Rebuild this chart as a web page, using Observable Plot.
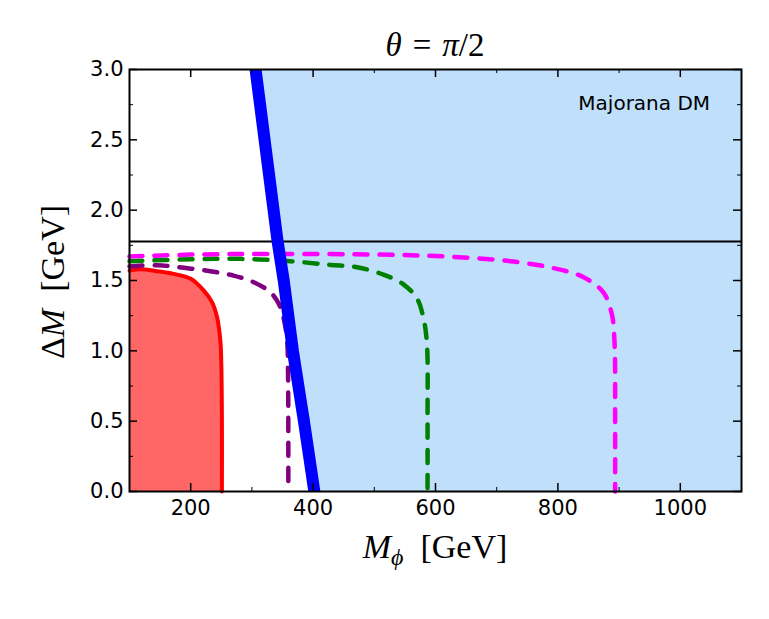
<!DOCTYPE html>
<html>
<head>
<meta charset="utf-8">
<script src="https://cdn.jsdelivr.net/npm/d3@7"></script>
<script src="https://cdn.jsdelivr.net/npm/@observablehq/plot@0.6"></script>
<style>
  html, body { margin: 0; padding: 0; background: #fff; }
</style>
</head>
<body>
<div id="chart"></div>
<script>
// ---- data ----
const xMajor = [200, 400, 600, 800, 1000];
const xMinor = [300, 500, 700, 900];
const yMajor = [0, 0.5, 1.0, 1.5, 2.0, 2.5, 3.0];
const yMinor = [0.25, 0.75, 1.25, 1.75, 2.25, 2.75];
const yTickLabels = ["0.0", "0.5", "1.0", "1.5", "2.0", "2.5", "3.0"];

const tauMass = 1.777;

// excluded region (red)
const redX = [100, 118, 145, 172, 200, 221, 235, 243, 248.5, 250, 251, 251];
const redY = [1.57, 1.58, 1.566, 1.547, 1.512, 1.43, 1.345, 1.24, 1.07, 0.91, 0.5, 0];

// dashed contours
const purpleX = [100, 145, 189, 232, 270, 303, 330, 344, 352, 357.5, 359, 359.5, 359.5];
const purpleY = [1.60, 1.609, 1.59, 1.566, 1.535, 1.488, 1.417, 1.334, 1.228, 1.073, 0.86, 0.4, 0];

const greenX = [100, 200, 281, 363, 428, 472, 515, 548, 570, 580.5, 586, 587, 587];
const greenY = [1.637, 1.651, 1.654, 1.637, 1.611, 1.594, 1.542, 1.471, 1.37, 1.228, 1.05, 0.5, 0];

const magentaX = [100, 200, 336, 510, 619, 727, 798, 842, 874, 888, 892.4, 893.5, 893.5];
const magentaY = [1.67, 1.684, 1.689, 1.684, 1.67, 1.635, 1.583, 1.523, 1.417, 1.263, 1.073, 0.5, 0];

// relic-density boundary (blue) and the allowed region to its right
const blueX = [302, 306, 342, 352, 367, 385, 402];
const blueY = [3.1, 3.0, 1.777, 1.5, 1.0, 0.5, 0];

const zip = (xs, ys) => xs.map((x, i) => ({x, y: ys[i]}));
const red = zip(redX, redY);
const purple = zip(purpleX, purpleY);
const green = zip(greenX, greenY);
const magenta = zip(magentaX, magentaY);
const blue = zip(blueX, blueY);

const W = 769, H = 619;
const mL = 129, mR = 28, mT = 69, mB = 128;
const frameH = H - mT - mB, frameW = W - mL - mR;
const majLen = 8, minLen = 4;

const dash = "13,12";

const chart = Plot.plot({
  width: W, height: H,
  marginLeft: mL, marginRight: mR, marginTop: mT, marginBottom: mB,
  x: {domain: [100, 1100], axis: null},
  y: {domain: [0, 3], axis: null},
  style: {fontFamily: "DejaVu Sans", background: "white"},
  marks: [
    Plot.areaX(blue, {y: "y", x1: "x", x2: 1100, fill: "#bfdffb", clip: true}),
    Plot.areaY(red, {x: "x", y1: 0, y2: "y", fill: "#ff6666", curve: "catmull-rom"}),
    Plot.line(red, {x: "x", y: "y", stroke: "#ff0000", strokeWidth: 4, curve: "catmull-rom"}),
    Plot.ruleY([tauMass], {stroke: "black", strokeWidth: 2}),
    Plot.line(purple, {x: "x", y: "y", stroke: "#800080", strokeWidth: 4.5, strokeDasharray: dash, curve: "catmull-rom"}),
    Plot.line(green, {x: "x", y: "y", stroke: "#008000", strokeWidth: 4.5, strokeDasharray: dash, curve: "catmull-rom"}),
    Plot.line(magenta, {x: "x", y: "y", stroke: "#ff00ff", strokeWidth: 4.5, strokeDasharray: dash, curve: "catmull-rom"}),
    Plot.line(blue, {x: "x", y: "y", stroke: "#0000ff", strokeWidth: 12, clip: true}),
    // inward ticks, all four sides
    Plot.tickX(xMajor, {x: d => d, stroke: "black", strokeWidth: 1.5, insetTop: frameH - majLen}),
    Plot.tickX(xMinor, {x: d => d, stroke: "black", strokeWidth: 1, insetTop: frameH - minLen}),
    Plot.tickX(xMajor, {x: d => d, stroke: "black", strokeWidth: 1.5, insetBottom: frameH - majLen}),
    Plot.tickX(xMinor, {x: d => d, stroke: "black", strokeWidth: 1, insetBottom: frameH - minLen}),
    Plot.tickY(yMajor, {y: d => d, stroke: "black", strokeWidth: 1.5, insetRight: frameW - majLen}),
    Plot.tickY(yMinor, {y: d => d, stroke: "black", strokeWidth: 1, insetRight: frameW - minLen}),
    Plot.tickY(yMajor, {y: d => d, stroke: "black", strokeWidth: 1.5, insetLeft: frameW - majLen}),
    Plot.tickY(yMinor, {y: d => d, stroke: "black", strokeWidth: 1, insetLeft: frameW - minLen}),
    // tick labels
    Plot.text(xMajor, {x: d => d, frameAnchor: "bottom", dy: 23, text: d => String(d), fontSize: 21, fill: "black"}),
    Plot.text(yMajor, {y: d => d, frameAnchor: "left", dx: -6, textAnchor: "end", text: (d, i) => yTickLabels[i], fontSize: 21, fill: "black"}),
    Plot.text(["Majorana DM"], {x: 941, y: 2.76, text: d => d, fontSize: 20, fill: "black"}),
    Plot.frame({stroke: "black", strokeWidth: 2})
  ]
});

document.getElementById("chart").appendChild(chart);

// math-style labels (real text, mixed italic/upright)
const svg = d3.select(chart);
const serif = "'Liberation Serif', 'DejaVu Serif', serif";

const title = svg.append("text")
  .attr("x", mL + frameW / 2).attr("y", 56)
  .attr("text-anchor", "middle")
  .attr("font-family", serif).attr("font-size", 33).attr("fill", "black");
title.append("tspan").attr("font-style", "italic").text("θ");
title.append("tspan").text("\u2004=\u2004");
title.append("tspan").attr("font-style", "italic").text("π");
title.append("tspan").text("/2");

const xl = svg.append("text")
  .attr("x", mL + frameW / 2).attr("y", 558)
  .attr("text-anchor", "middle")
  .attr("font-family", serif).attr("font-size", 34).attr("fill", "black");
xl.append("tspan").attr("font-style", "italic").text("M");
xl.append("tspan").attr("font-style", "italic").attr("font-size", 24).attr("dy", 7).text("\u03d5");
xl.append("tspan").attr("dy", -7).text("\u2002[GeV]");

const yl = svg.append("text")
  .attr("transform", `translate(64, ${mT + frameH / 2 + 2}) rotate(-90)`)
  .attr("text-anchor", "middle")
  .attr("font-family", serif).attr("font-size", 34).attr("fill", "black");
yl.append("tspan").text("Δ");
yl.append("tspan").attr("font-style", "italic").text("M");
yl.append("tspan").text("\u2002[GeV]");
</script>
</body>
</html>
